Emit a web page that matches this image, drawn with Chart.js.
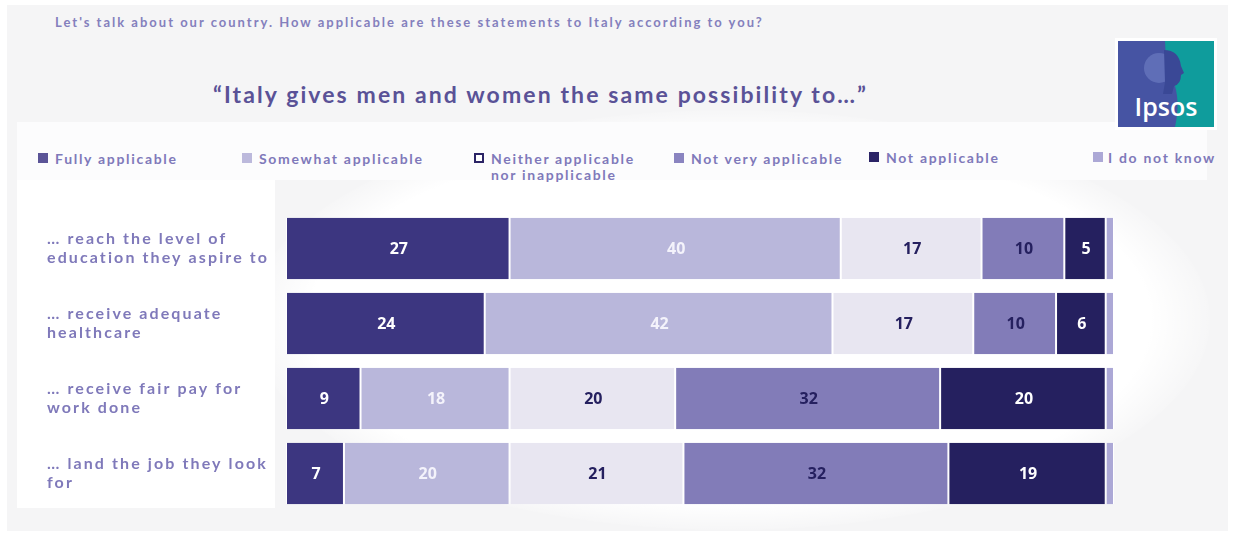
<!DOCTYPE html>
<html lang="en">
<head>
    <meta charset="UTF-8">
    <title>Italy gives men and women the same possibility to…</title>
    <script src="https://cdn.jsdelivr.net/npm/chart.js"></script>
    <style>
        body {
            margin: 0;
            width: 1233px;
            height: 537px;
            background: #ffffff;
            font-family: 'Lato', sans-serif;
            overflow: hidden;
            position: relative;
        }

        .panel {
            position: absolute;
            left: 7px; top: 5px;
            width: 1221px; height: 526px;
            background: #f5f5f6;
        }

        /* soft white shapes behind the legend and the chart */
        .glow {
            position: absolute;
            left: 250px; top: 110px;
            width: 960px; height: 420px;
            border-radius: 50%;
            background: radial-gradient(ellipse at center, #ffffff 62%, rgba(255,255,255,0) 72%);
        }
        .legend-band {
            position: absolute;
            left: 17px; top: 122px;
            width: 1190px; height: 58px;
            background: #fcfcfd;
        }
        .label-band {
            position: absolute;
            left: 17px; top: 180px;
            width: 258px; height: 328px;
            background: #ffffff;
        }

        .subtitle {
            position: absolute;
            left: 55px; top: 14px;
            font-size: 13px;
            font-weight: 700;
            letter-spacing: 2px;
            color: #8480bd;
        }
        .title {
            position: absolute;
            left: 213px; top: 80px;
            font-size: 23px;
            font-weight: 700;
            letter-spacing: 2.1px;
            color: #5a5297;
        }

        .legend-item {
            position: absolute;
            font-size: 14px;
            font-weight: 700;
            letter-spacing: 1.7px;
            line-height: 16px;
            color: #7f79ba;
            white-space: pre;
        }
        .legend-item .box {
            position: absolute;
            left: -17px; top: 2px;
            width: 10px; height: 10px;
            box-sizing: border-box;
        }

        .logo {
            position: absolute;
            left: 1115px; top: 38px;
            width: 102px; height: 92px;
            background: #ffffff;
        }

        #chart {
            position: absolute;
            left: 0; top: 0;
        }
    </style>
</head>
<body>
    <div class="panel"></div>
    <div class="glow"></div>
    <div class="legend-band"></div>
    <div class="label-band"></div>

    <div class="subtitle">Let's talk about our country. How applicable are these statements to Italy according to you?</div>
    <div class="title">“Italy gives men and women the same possibility to…”</div>

    <div id="legend"></div>

    <div class="logo">
        <svg width="102" height="92" viewBox="0 0 102 92">
            <rect x="3" y="3" width="96" height="86" fill="#4654a3"/>
            <path d="M50 3 H99 V89 H60 Q66 62 58 42 Q50 22 50 3 Z" fill="#0f9c9c"/>
            <circle cx="44" cy="30" r="15" fill="#6877bd" opacity="0.75"/>
            <path d="M49 12 Q64 12 66 28 L69 35 L66 37 Q66 46 59 48 L57 56 L48 56 L50 44 Z" fill="#3a4896"/>
            <text x="51" y="78" text-anchor="middle" font-family="Open Sans, sans-serif" font-size="25" font-weight="600" fill="#ffffff">Ipsos</text>
        </svg>
    </div>

    <canvas id="chart" width="1233" height="537"></canvas>

    <script>
        // Statements (y axis)
        const categories = [
            ['… reach the level of', 'education they aspire to'],
            ['… receive adequate', 'healthcare'],
            ['… receive fair pay for', 'work done'],
            ['… land the job they look', 'for']
        ];

        // Answer options
        const seriesNames = [
            'Fully applicable',
            'Somewhat applicable',
            'Neither applicable\nnor inapplicable',
            'Not very applicable',
            'Not applicable',
            'I do not know'
        ];

        // Percentages per statement
        const fullyApplicable    = [27, 24, 9, 7];
        const somewhatApplicable = [40, 42, 18, 20];
        const neitherApplicable  = [17, 17, 20, 21];
        const notVeryApplicable  = [10, 10, 32, 32];
        const notApplicable      = [5, 6, 20, 19];
        const doNotKnow          = [1, 1, 1, 1];

        const seriesValues = [fullyApplicable, somewhatApplicable, neitherApplicable,
                              notVeryApplicable, notApplicable, doNotKnow];

        const barColors   = ['#3c3680', '#b9b7db', '#e8e6f1', '#827cb8', '#25205f', '#aca8d6'];
        const labelColors = ['#ffffff', '#f4f3fb', '#25205f', '#25205f', '#ffffff', null];

        // Legend (drawn as html, laid out in one row)
        const legendX = [55, 259, 491, 691, 886, 1108];
        const legendY = [151, 151, 151, 151, 150, 150];
        const legendBox = [
            { background: '#5b5497' },
            { background: '#bcb9dc' },
            { background: '#ffffff', border: '2px solid #2b2466' },
            { background: '#8a84c0' },
            { background: '#2b2466' },
            { background: '#aca8d6' }
        ];
        const legendEl = document.getElementById('legend');
        seriesNames.forEach((name, i) => {
            const item = document.createElement('div');
            item.className = 'legend-item';
            item.style.left = legendX[i] + 'px';
            item.style.top = legendY[i] + 'px';
            item.textContent = name;
            const box = document.createElement('span');
            box.className = 'box';
            Object.assign(box.style, legendBox[i]);
            if (i === 5) box.style.left = '-15px';
            item.appendChild(box);
            legendEl.appendChild(item);
        });

        // statement labels on the left, placed from the y scale
        const statementLabels = {
            id: 'statementLabels',
            afterDraw(chart) {
                const ctx = chart.ctx;
                const y = chart.scales.y;
                ctx.save();
                ctx.font = '700 16px Lato, sans-serif';
                ctx.letterSpacing = '2.1px';
                ctx.fillStyle = '#7f79ba';
                ctx.textAlign = 'left';
                ctx.textBaseline = 'middle';
                categories.forEach((lines, i) => {
                    const cy = y.getPixelForValue(i);
                    const top = cy - (lines.length - 1) * 19 / 2;
                    lines.forEach((line, j) => ctx.fillText(line, 47, top + j * 19));
                });
                ctx.restore();
            }
        };

        // value labels in the middle of each segment
        const valueLabels = {
            id: 'valueLabels',
            afterDatasetsDraw(chart) {
                const ctx = chart.ctx;
                ctx.save();
                ctx.font = '700 16px "Open Sans", sans-serif';
                ctx.textAlign = 'center';
                ctx.textBaseline = 'middle';
                chart.data.datasets.forEach((ds, di) => {
                    if (!labelColors[di]) return;
                    chart.getDatasetMeta(di).data.forEach((bar, i) => {
                        ctx.fillStyle = labelColors[di];
                        ctx.fillText(ds.data[i], (bar.x + bar.base) / 2 + 1, bar.y + 1);
                    });
                });
                ctx.restore();
            }
        };

        new Chart(document.getElementById('chart'), {
            type: 'bar',
            data: {
                labels: categories,
                datasets: seriesValues.map((vals, i) => ({
                    label: seriesNames[i],
                    data: vals,
                    backgroundColor: barColors[i],
                    borderColor: '#ffffff',
                    borderWidth: { left: 1, right: 1, top: 0, bottom: 0 },
                    borderSkipped: false,
                    barPercentage: 0.82,
                    categoryPercentage: 1
                }))
            },
            options: {
                indexAxis: 'y',
                responsive: false,
                animation: false,
                layout: { padding: { left: 286, right: 119, top: 211, bottom: 26 } },
                scales: {
                    x: { stacked: true, min: 0, max: 100, display: false },
                    y: { stacked: true, display: false }
                },
                plugins: {
                    legend: { display: false },
                    tooltip: { enabled: false }
                }
            },
            plugins: [valueLabels, statementLabels]
        });
    </script>
</body>
</html>
